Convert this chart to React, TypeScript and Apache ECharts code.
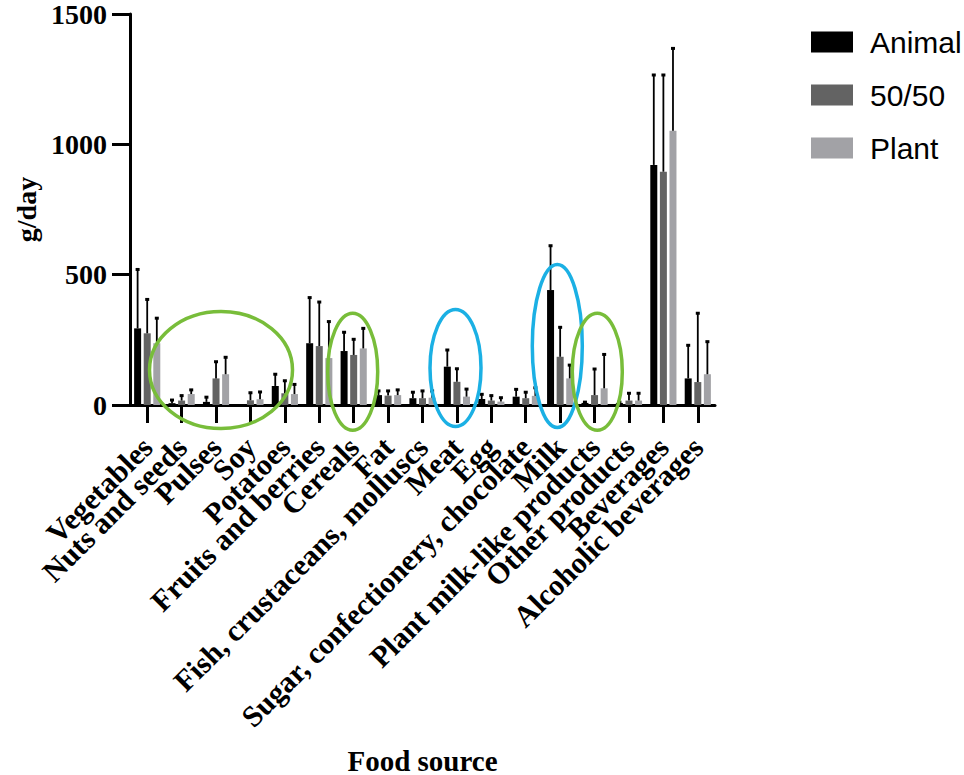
import React, { useEffect, useRef } from "react";
import * as echarts from "echarts";

const categories = [
  "Vegetables",
  "Nuts and seeds",
  "Pulses",
  "Soy",
  "Potatoes",
  "Fruits and berries",
  "Cereals",
  "Fat",
  "Fish, crustaceans, molluscs",
  "Meat",
  "Egg",
  "Sugar, confectionery, chocolate",
  "Milk",
  "Plant milk-like products",
  "Other products",
  "Beverages",
  "Alcoholic beverages",
];

const seriesNames = ["Animal", "50/50", "Plant"];

const animal = [294, 7, 12, 2, 73, 237, 207, 38, 26, 147, 23, 32, 441, 8, 8, 921, 102];
const animalSD = [226, 12, 18, 0, 45, 175, 72, 16, 23, 64, 18, 28, 170, 3, 3, 345, 127];

const fifty = [275, 17, 102, 18, 45, 226, 192, 36, 26, 89, 17, 26, 185, 38, 17, 895, 88];
const fiftySD = [130, 19, 64, 29, 48, 169, 60, 18, 28, 50, 19, 23, 113, 100, 28, 371, 264];

const plant = [237, 42, 118, 22, 42, 180, 217, 38, 28, 32, 13, 35, 102, 64, 17, 1052, 118];
const plantSD = [96, 16, 65, 28, 37, 140, 77, 20, 26, 29, 15, 31, 51, 130, 28, 316, 125];

const yTicks = [0, 500, 1000, 1500];

const colors = ["#000000", "#636363", "#a2a2a6"];
const BAR_W = 7;
const BAR_STEP = 9.6;

export default function App() {
  const ref = useRef<HTMLDivElement>(null);

  useEffect(() => {
    if (!ref.current) return;
    const chart = echarts.init(ref.current, null, { renderer: "svg" });

    const means = [animal, fifty, plant];
    const sds = [animalSD, fiftySD, plantSD];

    const barSeries = seriesNames.map((name, i) => ({
      name,
      type: "bar",
      data: means[i],
      barWidth: BAR_W,
      barGap: "37%",
      itemStyle: { color: colors[i] },
      z: 2,
    }));

    const errSeries = seriesNames.map((name, i) => ({
      name: name + " SD",
      type: "custom",
      data: means[i].map((m, j) => [j, m, m + sds[i][j]]),
      encode: { x: 0, y: [1, 2] },
      z: 3,
      silent: true,
      renderItem: (params: any, api: any) => {
        const idx = api.value(0);
        const m = api.value(1);
        const t = api.value(2);
        if (t <= m) return { type: "group", children: [] };
        const base = api.coord([idx, m]);
        const top = api.coord([idx, t]);
        const x = base[0] + (i - 1) * BAR_STEP;
        return {
          type: "group",
          children: [
            {
              type: "line",
              shape: { x1: x, y1: base[1], x2: x, y2: top[1] },
              style: { stroke: "#000", lineWidth: 1.8 },
            },
            {
              type: "rect",
              shape: { x: x - 2, y: top[1] - 1.5, width: 4, height: 3 },
              style: { fill: "#000" },
            },
          ],
        };
      },
    }));

    const ellipses = [
      { cx: 221, cy: 370, rx: 71.5, ry: 58.5, c: "#78bd3a" },
      { cx: 352.7, cy: 371.7, rx: 25, ry: 58.5, c: "#78bd3a" },
      { cx: 455.5, cy: 368, rx: 25.5, ry: 58.5, c: "#1bb0e4" },
      { cx: 557.3, cy: 346, rx: 25, ry: 81.5, c: "#1bb0e4" },
      { cx: 597.3, cy: 371.7, rx: 25, ry: 58.5, c: "#78bd3a" },
    ];

    const serif = "'Liberation Serif', 'Times New Roman', serif";

    chart.setOption({
      animation: false,
      backgroundColor: "#ffffff",
      grid: {
        left: 130,
        top: 14,
        width: 585,
        height: 391,
        containLabel: false,
        outerBoundsMode: "none",
      },
      legend: {
        data: seriesNames,
        orient: "vertical",
        left: 806,
        top: 22,
        itemWidth: 42,
        itemHeight: 21,
        itemGap: 23,
        icon: "rect",
        textStyle: {
          fontFamily: "'Liberation Sans', Arial, sans-serif",
          fontSize: 30,
          lineHeight: 30,
          color: "#000",
          padding: [0, 0, 0, 12],
        },
      },
      xAxis: {
        type: "category",
        data: categories,
        name: "Food source",
        nameLocation: "middle",
        nameGap: 341,
        nameTextStyle: {
          fontFamily: serif,
          fontWeight: "bold",
          fontSize: 29,
          color: "#000",
        },
        axisLine: { show: true, lineStyle: { color: "#000", width: 3 } },
        axisTick: {
          show: true,
          alignWithLabel: true,
          length: 18,
          lineStyle: { color: "#000", width: 3 },
        },
        axisLabel: {
          interval: 0,
          rotate: 45,
          margin: 37,
          fontFamily: serif,
          fontWeight: "bold",
          fontSize: 30,
          color: "#000",
        },
        splitLine: { show: false },
      },
      yAxis: {
        type: "value",
        min: yTicks[0],
        max: yTicks[yTicks.length - 1],
        interval: 500,
        name: "g/day",
        nameLocation: "middle",
        nameGap: 90,
        nameTextStyle: {
          fontFamily: serif,
          fontWeight: "bold",
          fontSize: 28,
          color: "#000",
        },
        axisLine: { show: true, lineStyle: { color: "#000", width: 3 } },
        axisTick: { show: true, length: 18, lineStyle: { color: "#000", width: 3 } },
        axisLabel: {
          margin: 23,
          formatter: (v: number) => String(v),
          fontFamily: serif,
          fontWeight: "bold",
          fontSize: 28,
          color: "#000",
        },
        splitLine: { show: false },
      },
      series: [...barSeries, ...errSeries],
      graphic: ellipses.map((e) => ({
        type: "ellipse",
        shape: { cx: e.cx, cy: e.cy, rx: e.rx, ry: e.ry },
        style: { fill: "none", stroke: e.c, lineWidth: 3.5 },
        z: 10,
        silent: true,
      })),
    });

    return () => chart.dispose();
  }, []);

  return (
    <div
      ref={ref}
      style={{ position: "absolute", left: 0, top: 0, width: 964, height: 775 }}
    />
  );
}
